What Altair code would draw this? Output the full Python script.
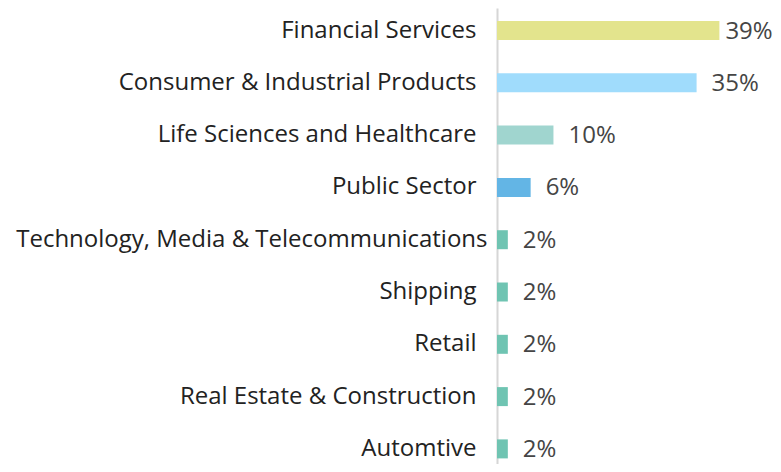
import altair as alt
import pandas as pd

categories = [
    "Financial Services",
    "Consumer & Industrial Products",
    "Life Sciences and Healthcare",
    "Public Sector",
    "Technology, Media & Telecommunications",
    "Shipping",
    "Retail",
    "Real Estate & Construction",
    "Automtive",
]
shares = [39, 35, 9.9, 5.9, 1.9, 1.9, 1.9, 1.9, 1.9]
share_labels = ["39%", "35%", "10%", "6%", "2%", "2%", "2%", "2%", "2%"]
palette = ["#e3e48d", "#a0dcfc", "#a0d5cf", "#63b5e5",
           "#6fc4b2", "#6fc4b2", "#6fc4b2", "#6fc4b2", "#6fc4b2"]

df = pd.DataFrame({"category": categories, "share": shares, "label": share_labels})

FONT = "Open Sans"
long_label = "Technology, Media & Telecommunications"

y_enc = alt.Y(
    "category:N",
    sort=categories,
    title=None,
    scale=alt.Scale(paddingInner=0.6367, paddingOuter=0.178, align=0.699),
    axis=alt.Axis(
        ticks=False,
        grid=False,
        domain=True,
        domainColor="#d6d6d6",
        domainWidth=2,
        labelFont=FONT,
        labelFontSize=24,
        labelColor="#222222",
        labelLimit=0,
        labelAlign="right",
        labelPadding=alt.ExprRef(f"datum.value == '{long_label}' ? 10 : 21"),
    ),
)
x_enc = alt.X(
    "share:Q",
    title=None,
    scale=alt.Scale(domain=[0, 48.4], nice=False, zero=True),
    axis=None,
)

base = alt.Chart(df).encode(y=y_enc, x=x_enc)

bars = base.mark_bar().encode(
    color=alt.Color("category:N", scale=alt.Scale(domain=categories, range=palette), legend=None)
)

text_style = dict(align="left", baseline="middle", font=FONT, fontSize=24, color="#454545")

text_top = (
    base.transform_joinaggregate(mx="max(share)")
    .transform_filter("datum.share == datum.mx")
    .mark_text(dx=6, dy=1, **text_style)
    .encode(text="label:N")
)
text_rest = (
    base.transform_joinaggregate(mx="max(share)")
    .transform_filter("datum.share < datum.mx")
    .mark_text(dx=15, dy=1, **text_style)
    .encode(text="label:N")
)

chart = (
    alt.layer(bars, text_top, text_rest)
    .properties(
        width=276,
        height=456,
        autosize=alt.AutoSizeParams(type="none"),
        padding={"left": 489, "top": 0, "right": 0, "bottom": 0},
        background="#ffffff",
    )
    .configure_view(stroke=None)
)

chart.save("out.html", embed_options={"renderer": "svg", "actions": False})
